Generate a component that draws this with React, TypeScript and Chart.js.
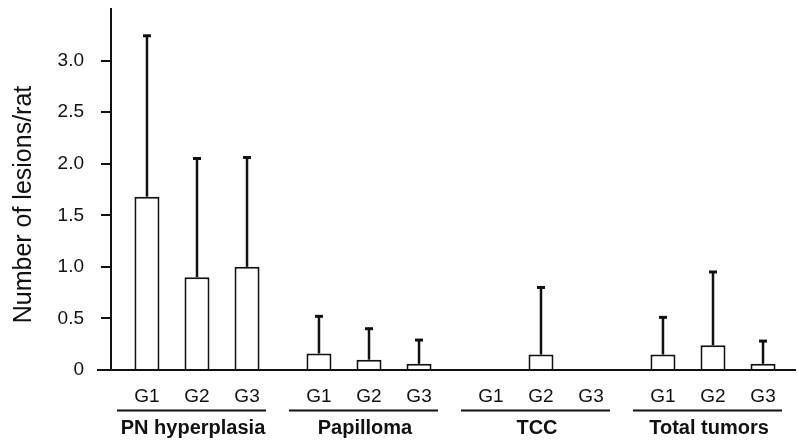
import React, { useEffect, useRef } from "react";
import { Chart, registerables } from "chart.js";

Chart.register(...registerables);

const groups = ["PN hyperplasia", "Papilloma", "TCC", "Total tumors"];
const seriesNames = ["G1", "G2", "G3"];
const g1Means = [1.68, 0.16, 0, 0.15];
const g2Means = [0.9, 0.1, 0.15, 0.24];
const g3Means = [1.0, 0.06, 0, 0.06];
const g1Sd = [1.57, 0.37, 0, 0.37];
const g2Sd = [1.16, 0.31, 0.66, 0.72];
const g3Sd = [1.07, 0.24, 0, 0.23];
const yTickValues = [0, 0.5, 1.0, 1.5, 2.0, 2.5, 3.0];
const yTitle = "Number of lesions/rat";

const FONT = '"Liberation Sans", Arial, Helvetica, sans-serif';
const INK = "#111";

const means = [g1Means, g2Means, g3Means];
const sds = [g1Sd, g2Sd, g3Sd];

const decorPlugin = {
  id: "decor",
  afterDatasetsDraw(chart: any) {
    const ctx = chart.ctx;
    const area = chart.chartArea;
    const xs = chart.scales.x;
    const ys = chart.scales.y;
    const y0 = ys.getPixelForValue(0);
    ctx.save();
    // baseline
    ctx.strokeStyle = INK;
    ctx.lineWidth = 2;
    ctx.beginPath();
    ctx.moveTo(area.left - 14, y0);
    ctx.lineTo(area.right - 3, y0);
    ctx.stroke();
    // error bars
    means.forEach((m, di) => {
      const meta = chart.getDatasetMeta(di);
      m.forEach((v, i) => {
        const sd = sds[di][i];
        if (!sd) return;
        const el = meta.data[i];
        const x = el.x;
        const yTop = ys.getPixelForValue(v + sd);
        const yBar = ys.getPixelForValue(v);
        ctx.lineWidth = 2.5;
        ctx.beginPath();
        ctx.moveTo(x, yBar);
        ctx.lineTo(x, yTop);
        ctx.stroke();
        ctx.lineWidth = 3;
        ctx.beginPath();
        ctx.moveTo(x - 4, yTop + 1);
        ctx.lineTo(x + 4, yTop + 1);
        ctx.stroke();
      });
      // G labels
      ctx.fillStyle = INK;
      ctx.font = `19px ${FONT}`;
      ctx.textAlign = "center";
      ctx.textBaseline = "middle";
      meta.data.forEach((el: any) => {
        ctx.fillText(seriesNames[di], el.x, area.bottom + 27);
      });
    });
    // group lines and labels
    groups.forEach((g, i) => {
      const cx = xs.getPixelForTick(i);
      ctx.lineWidth = 2;
      ctx.beginPath();
      ctx.moveTo(cx - 80, area.bottom + 40.5);
      ctx.lineTo(cx + 69, area.bottom + 40.5);
      ctx.stroke();
      ctx.font = `bold 20px ${FONT}`;
      ctx.textAlign = "center";
      ctx.textBaseline = "alphabetic";
      ctx.fillText(g, cx - 4, area.bottom + 64);
    });
    // y title
    ctx.translate(24, (area.top + area.bottom) / 2 + 15);
    ctx.rotate(-Math.PI / 2);
    ctx.font = `25px ${FONT}`;
    ctx.textAlign = "center";
    ctx.textBaseline = "middle";
    ctx.fillText(yTitle, 0, 0);
    ctx.restore();
  },
};

export default function App() {
  const ref = useRef<HTMLCanvasElement>(null);
  useEffect(() => {
    if (!ref.current) return;
    const chart = new Chart(ref.current, {
      type: "bar",
      data: {
        labels: groups,
        datasets: seriesNames.map((name, i) => ({
          label: name,
          data: means[i],
          backgroundColor: "#fff",
          borderColor: INK,
          borderWidth: 2,
          categoryPercentage: 0.8726,
          barPercentage: 0.5,
        })),
      },
      options: {
        responsive: false,
        animation: false,
        devicePixelRatio: 1,
        layout: { padding: { top: 9, right: 0, left: 0, bottom: 0 } },
        plugins: {
          legend: { display: false },
          tooltip: { enabled: false },
        },
        scales: {
          x: {
            grid: { display: false },
            border: { display: false },
            ticks: { display: false },
            afterFit(scale: any) {
              scale.height = 70;
            },
          },
          y: {
            min: 0,
            max: 3.5,
            afterBuildTicks(scale: any) {
              scale.ticks = yTickValues.map((v) => ({ value: v }));
            },
            afterFit(scale: any) {
              scale.width = 111;
              scale.paddingTop = 0;
              scale.paddingBottom = 0;
            },
            border: { display: true, color: INK, width: 2 },
            grid: {
              drawOnChartArea: false,
              drawTicks: true,
              tickLength: 10,
              color: INK,
              lineWidth: 2,
            },
            ticks: {
              padding: 17,
              color: INK,
              font: { family: FONT, size: 19 },
              callback: (v: any) => (Number(v) === 0 ? "0" : Number(v).toFixed(1)),
            },
          },
        },
      },
      plugins: [decorPlugin],
    });
    return () => chart.destroy();
  }, []);
  return (
    <div style={{ position: "absolute", left: 0, top: 0, width: 799, height: 440 }}>
      <canvas ref={ref} width={799} height={440} style={{ width: 799, height: 440 }} />
    </div>
  );
}
